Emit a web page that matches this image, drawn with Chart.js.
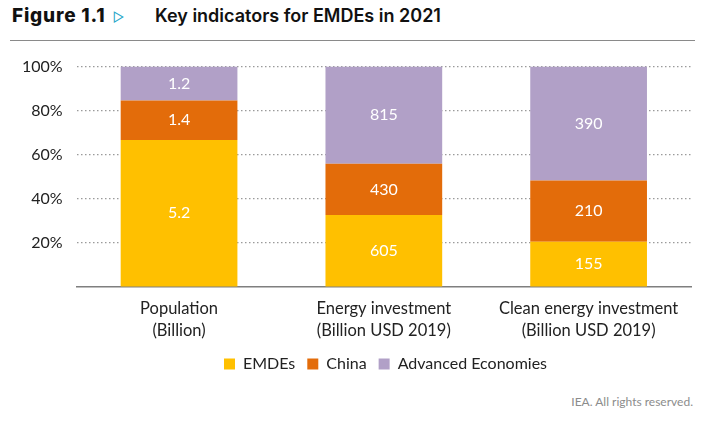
<!DOCTYPE html>
<html>
<head>
<meta charset="utf-8">
<script src="https://cdn.jsdelivr.net/npm/chart.js@4"></script>
<style>
  body { margin: 0; background: #fff; width: 705px; height: 422px; position: relative; overflow: hidden; font-family: Lato, sans-serif; }
  #title { position: absolute; left: 12px; top: 4px; font-family: Inter, "Noto Sans", sans-serif; font-size: 19px; color: #111; white-space: nowrap; }
  #title .fig { font-weight: 800; letter-spacing: 0.8px; }
  #title .tri { color: #2aa7c9; font-size: 13px; margin-left: 7px; }
  #title .name { position: absolute; left: 143px; top: 1px; font-weight: 600; font-size: 18px; }
  #rule { position: absolute; left: 10px; top: 40px; width: 685px; height: 1px; background: #8a8a8a; }
  #wrap { position: absolute; left: 0; top: 43px; width: 705px; height: 339px; }
  #note { position: absolute; right: 12px; top: 394px; font-size: 12px; color: #8c8c8c; }
</style>
</head>
<body>
<div id="title"><span class="fig">Figure 1.1</span><span class="tri">&#9655;</span><span class="name">Key indicators for EMDEs in 2021</span></div>
<div id="rule"></div>
<div id="wrap"><canvas id="chart"></canvas></div>
<div id="note">IEA. All rights reserved.</div>
<script>
const categories = [
  ['Population', '(Billion)'],
  ['Energy investment', '(Billion USD 2019)'],
  ['Clean energy investment', '(Billion USD 2019)']
];
const emdes = [5.2, 605, 155];
const china = [1.4, 430, 210];
const advanced = [1.2, 815, 390];

const totals = emdes.map((v, i) => v + china[i] + advanced[i]);
const share = (arr) => arr.map((v, i) => v / totals[i] * 100);

// write the raw value in the middle of each segment
const valueLabels = {
  id: 'valueLabels',
  afterDatasetsDraw(chart) {
    const ctx = chart.ctx;
    ctx.save();
    ctx.fillStyle = '#fff';
    ctx.font = '16px Lato, sans-serif';
    ctx.textAlign = 'center';
    ctx.textBaseline = 'middle';
    chart.data.datasets.forEach((ds, di) => {
      chart.getDatasetMeta(di).data.forEach((bar, i) => {
        const mid = (bar.y + bar.base) / 2;
        ctx.fillText(String(ds.raw[i]), bar.x, mid);
      });
    });
    ctx.restore();
  }
};

// legend sits a little right of centre in the original
const legendShift = {
  id: 'legendShift',
  afterLayout(chart) {
    chart.legend.left += 36;
    chart.legend.right += 36;
  }
};

const font = { family: 'Lato, sans-serif', size: 16.5, lineHeight: 1.3 };

const ctx = document.getElementById('chart').getContext('2d');
new Chart(ctx, {
  type: 'bar',
  data: {
    labels: categories,
    datasets: [
      { label: 'EMDEs', data: share(emdes), raw: emdes, backgroundColor: '#ffc000' },
      { label: 'China', data: share(china), raw: china, backgroundColor: '#e36c0a' },
      { label: 'Advanced Economies', data: share(advanced), raw: advanced, backgroundColor: '#b1a0c7' }
    ]
  },
  options: {
    responsive: true,
    maintainAspectRatio: false,
    animation: false,
    layout: { padding: { left: 8, right: 14, top: 6, bottom: 0 } },
    datasets: { bar: { categoryPercentage: 0.57, barPercentage: 1 } },
    plugins: {
      tooltip: { enabled: false },
      legend: {
        position: 'bottom',
        labels: {
          boxWidth: 11, boxHeight: 11, padding: 12,
          color: '#222',
          font: { family: 'Lato, sans-serif', size: 16 }
        }
      }
    },
    scales: {
      x: {
        stacked: true,
        grid: { display: false },
        border: { display: true, color: '#7f7f7f', width: 1.5 },
        ticks: { color: '#222', font: font, padding: 3 }
      },
      y: {
        stacked: true,
        min: 0, max: 100,
        ticks: {
          stepSize: 20,
          color: '#222',
          padding: 14,
          font: { family: 'Lato, sans-serif', size: 16 },
          callback: (v) => v === 0 ? '' : v + '%'
        },
        grid: {
          color: (c) => c.tick.value === 0 ? 'rgba(0,0,0,0)' : '#9a9a9a',
          lineWidth: 1.2,
          drawTicks: false
        },
        border: { display: false, dash: [1.5, 2.5] }
      }
    }
  },
  plugins: [valueLabels, legendShift]
});
</script>
</body>
</html>
